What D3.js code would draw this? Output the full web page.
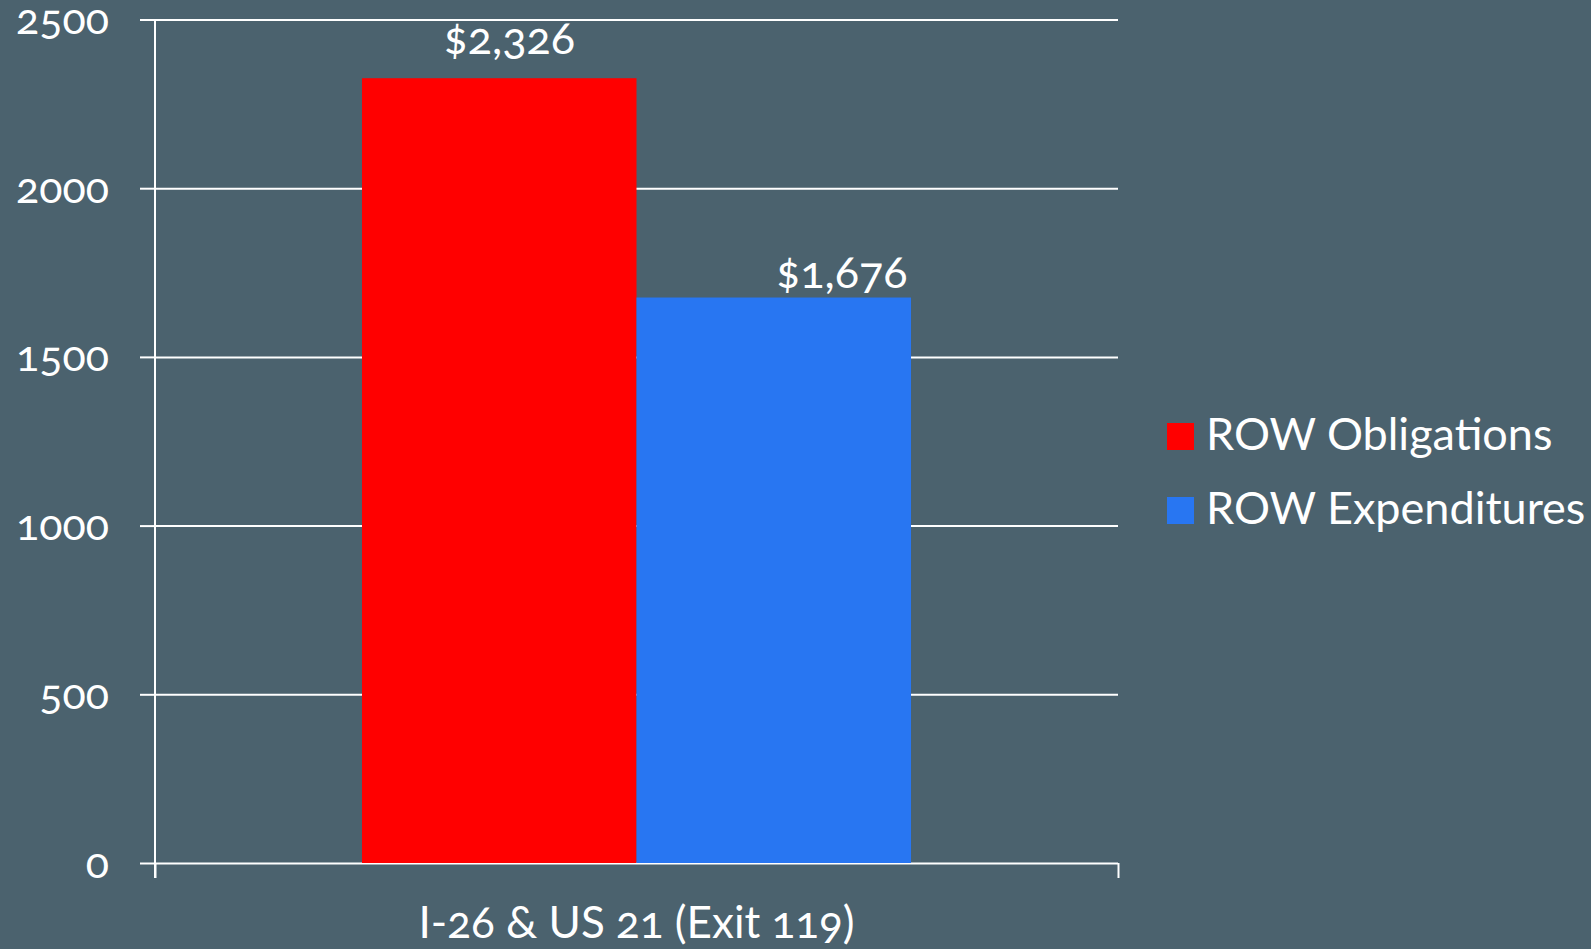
<!DOCTYPE html>
<html>
<head>
<meta charset="utf-8">
<script src="https://cdn.jsdelivr.net/npm/d3@7"></script>
<style>
  html, body { margin: 0; padding: 0; background: #4b626e; }
  svg { display: block; }
  text { font-family: Lato, "Open Sans", sans-serif; fill: #ffffff; font-variant-numeric: oldstyle-nums; }
</style>
</head>
<body>
<svg id="chart" width="1591" height="949"></svg>
<script>
// ---- data ----
const categories = ["I-26 & US 21 (Exit 119)"];
const seriesNames = ["ROW Obligations", "ROW Expenditures"];
const obligations = [2326];
const expenditures = [1676];
const yTicks = [0, 500, 1000, 1500, 2000, 2500];

// ---- styles / layout ----
const colors = ["#ff0000", "#2876f2"];
const bg = "#4b626e";
const plot = { left: 155, right: 1118, top: 19.5, bottom: 863 };
const labelOffsets = [{ dx: 10, dy: -24 }, { dx: 68, dy: -10 }];
const tickFont = 43, labelFont = 45, catFont = 44, legendFont = 45;

const seriesValues = [obligations, expenditures];
const svg = d3.select("#chart");
svg.append("rect").attr("width", 1591).attr("height", 949).attr("fill", bg);

const y = d3.scaleLinear().domain([0, 2500]).range([plot.bottom, plot.top]);
const x = d3.scaleBand().domain(categories).range([plot.left, plot.right]).padding(0);
const xSub = d3.scaleBand().domain(seriesNames).range([0, x.bandwidth()])
  .paddingInner(0).paddingOuter(0.754);
const xEdge = d3.scaleLinear().domain([0, categories.length]).range(x.range());

// gridlines
const grid = svg.append("g").attr("transform", `translate(${plot.left},0)`)
  .call(d3.axisLeft(y).tickValues(yTicks).tickSize(-(plot.right - plot.left)).tickFormat(""));
grid.select(".domain").remove();
grid.selectAll("line").attr("stroke", "#ffffff").attr("stroke-width", 2);

// bars
categories.forEach((cat, ci) => {
  seriesNames.forEach((s, si) => {
    const v = seriesValues[si][ci];
    svg.append("rect")
      .attr("x", x(cat) + xSub(s))
      .attr("y", y(v))
      .attr("width", xSub.bandwidth())
      .attr("height", y(0) - y(v))
      .attr("fill", colors[si]);
    svg.append("text")
      .attr("x", x(cat) + xSub(s) + xSub.bandwidth() / 2 + labelOffsets[si].dx)
      .attr("y", y(v) + labelOffsets[si].dy)
      .attr("text-anchor", "middle")
      .style("font-size", labelFont + "px")
      .text(d3.format("$,")(v));
  });
});

// y axis ticks + labels
const yAxis = svg.append("g").attr("transform", `translate(${plot.left},0)`)
  .call(d3.axisLeft(y).tickValues(yTicks).tickSize(15).tickPadding(31).tickFormat(d3.format("d")));
yAxis.select(".domain").remove();
yAxis.selectAll("line").attr("stroke", "#ffffff").attr("stroke-width", 2);
yAxis.selectAll("text").attr("dy", null).attr("y", 14)
  .style("font-size", tickFont + "px").attr("fill", "#ffffff");

// vertical axis line
svg.append("line")
  .attr("x1", plot.left).attr("x2", plot.left)
  .attr("y1", y(2500)).attr("y2", y(0) + 15)
  .attr("stroke", "#ffffff").attr("stroke-width", 2);

// x axis tick marks at category edges
const xTicks = svg.append("g").attr("transform", `translate(0,${y(0)})`)
  .call(d3.axisBottom(xEdge).tickValues(d3.range(categories.length + 1)).tickSize(15).tickFormat(""));
xTicks.select(".domain").remove();
xTicks.selectAll("line").attr("stroke", "#ffffff").attr("stroke-width", 2);

// category labels
const xAxis = svg.append("g").attr("transform", `translate(0,${y(0)})`)
  .call(d3.axisBottom(x).tickSize(0));
xAxis.select(".domain").remove();
xAxis.selectAll("text").attr("dy", null).attr("y", 75)
  .style("font-size", catFont + "px").attr("fill", "#ffffff");

// legend
const legend = svg.append("g").attr("transform", "translate(1167,423)");
seriesNames.forEach((s, i) => {
  const g = legend.append("g").attr("transform", `translate(0,${i * 74})`);
  g.append("rect").attr("width", 27).attr("height", 27).attr("fill", colors[i]);
  g.append("text").attr("x", 39).attr("y", 27).style("font-size", legendFont + "px").text(s);
});
</script>
</body>
</html>
